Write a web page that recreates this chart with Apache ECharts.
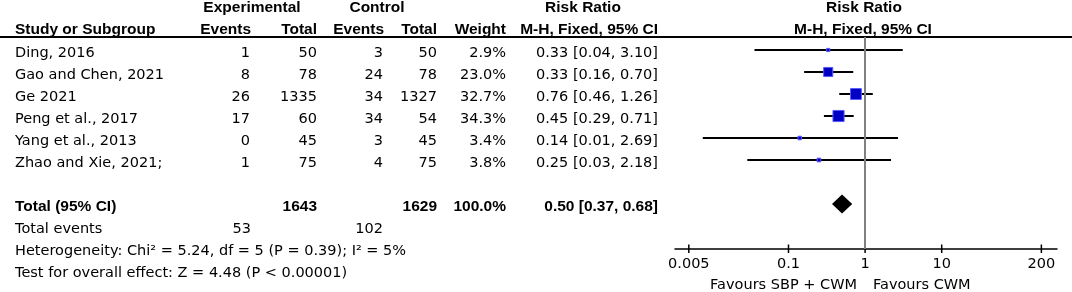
<!DOCTYPE html>
<html>
<head>
<meta charset="utf-8">
<script src="https://cdn.jsdelivr.net/npm/echarts@6/dist/echarts.min.js"></script>
<style>
	html, body { margin: 0; padding: 0; background: #fff; }
	#forest { width: 1072px; height: 292px; }
</style>
</head>
<body>
<div id="forest"></div>
<script>
// study rows
var studies = ['Ding, 2016', 'Gao and Chen, 2021', 'Ge 2021', 'Peng et al., 2017', 'Yang et al., 2013', 'Zhao and Xie, 2021;'];
var expEvents = [1, 8, 26, 17, 0, 1];
var expTotal = [50, 78, 1335, 60, 45, 75];
var ctrlEvents = [3, 24, 34, 34, 3, 4];
var ctrlTotal = [50, 78, 1327, 54, 45, 75];
var weights = [2.9, 23.0, 32.7, 34.3, 3.4, 3.8];
var riskRatio = [0.33, 0.33, 0.76, 0.45, 0.14, 0.25];
var ciLow = [0.036, 0.16, 0.46, 0.29, 0.0076, 0.029];
var ciHigh = [3.10, 0.70, 1.26, 0.71, 2.69, 2.18];

// pooled
var totalExp = 1643, totalCtrl = 1629;
var eventsExp = 53, eventsCtrl = 102;
var totalRR = 0.50, totalLow = 0.37, totalHigh = 0.68;
var totalRow = 7;

var tickValues = [0.005, 0.1, 1, 10, 200];
var tickLabels = ['0.005', '0.1', '1', '10', '200'];

var hetText = 'Heterogeneity: Chi\u00b2 = 5.24, df = 5 (P = 0.39); I\u00b2 = 5%';
var testText = 'Test for overall effect: Z = 4.48 (P < 0.00001)';
var favLeft = 'Favours SBP + CWM';
var favRight = 'Favours CWM';

(function() {
	'use strict';
	var REG = '14.5px "DejaVu Sans"';
	var BOLD = 'bold 15.5px "Liberation Sans"';
	var rowY0 = 53, rowH = 22;
	var graphics = [];

	function txt(x, y, s, align, font) {
		graphics.push({
			type: 'text', x: x, y: y, silent: true,
			style: { text: String(s), font: font || REG, fill: '#000', align: align || 'left', verticalAlign: 'middle' }
		});
	}

	// header
	txt(252, 8, 'Experimental', 'center', BOLD);
	txt(377, 8, 'Control', 'center', BOLD);
	txt(583, 8, 'Risk Ratio', 'center', BOLD);
	txt(864, 8, 'Risk Ratio', 'center', BOLD);
	txt(15, 30, 'Study or Subgroup', 'left', BOLD);
	txt(251, 30, 'Events', 'right', BOLD);
	txt(317, 30, 'Total', 'right', BOLD);
	txt(384, 30, 'Events', 'right', BOLD);
	txt(437, 30, 'Total', 'right', BOLD);
	txt(506, 30, 'Weight', 'right', BOLD);
	txt(658, 30, 'M-H, Fixed, 95% CI', 'right', BOLD);
	txt(863, 30, 'M-H, Fixed, 95% CI', 'center', BOLD);
	graphics.push({ type: 'line', silent: true, shape: { x1: 0, y1: 37, x2: 1072, y2: 37 }, style: { stroke: '#000', lineWidth: 2 } });

	function ciText(r, lo, hi) {
		return r.toFixed(2) + ' [' + lo.toFixed(2) + ', ' + hi.toFixed(2) + ']';
	}

	for (var i = 0; i < studies.length; i++) {
		var y = rowY0 + i * rowH;
		txt(15, y, studies[i]);
		txt(250, y, expEvents[i], 'right');
		txt(317, y, expTotal[i], 'right');
		txt(383, y, ctrlEvents[i], 'right');
		txt(437, y, ctrlTotal[i], 'right');
		txt(506, y, weights[i].toFixed(1) + '%', 'right');
		txt(658, y, ciText(riskRatio[i], ciLow[i], ciHigh[i]), 'right');
	}

	var yt = rowY0 + totalRow * rowH;
	txt(15, yt, 'Total (95% CI)', 'left', BOLD);
	txt(317, yt, totalExp, 'right', BOLD);
	txt(437, yt, totalCtrl, 'right', BOLD);
	txt(506, yt, '100.0%', 'right', BOLD);
	txt(658, yt, ciText(totalRR, totalLow, totalHigh), 'right', BOLD);
	txt(15, yt + rowH, 'Total events');
	txt(251, yt + rowH, eventsExp, 'right');
	txt(383, yt + rowH, eventsCtrl, 'right');
	txt(15, yt + 2 * rowH, hetText);
	txt(15, yt + 3 * rowH, testText);

	txt(857, 285, favLeft, 'right');
	txt(873, 285, favRight, 'left');

	var studyData = [];
	for (var j = 0; j < studies.length; j++) {
		studyData.push([j, ciLow[j], ciHigh[j], riskRatio[j], weights[j]]);
	}

	var yMin = -13 / 22, yMax = 199 / 22;

	var chart = echarts.init(document.getElementById('forest'), null, { renderer: 'canvas' });
	var option = {
		animation: false,
		grid: { left: 675, right: 15, top: 37, bottom: 43 },
		xAxis: {
			type: 'log',
			logBase: 10,
			min: 0.0033,
			max: 320,
			position: 'bottom',
			axisLine: { show: true, onZero: false, lineStyle: { color: '#000', width: 1.5 } },
			axisTick: { show: false },
			splitLine: { show: false },
			axisLabel: {
				customValues: tickValues,
				margin: 8,
				color: '#000',
				fontFamily: 'DejaVu Sans',
				fontSize: 14.5,
				formatter: function(v, idx) {
					var k = tickValues.indexOf(v);
					return k >= 0 ? tickLabels[k] : tickLabels[idx];
				}
			}
		},
		yAxis: { type: 'value', inverse: true, min: yMin, max: yMax, show: false },
		series: [{
			// line of no effect
			type: 'line',
			data: [],
			silent: true,
			markLine: {
				silent: true,
				symbol: 'none',
				label: { show: false },
				lineStyle: { color: '#808080', width: 2, type: 'solid' },
				data: [{ xAxis: 1 }]
			}
		}, {
			// study CIs and squares
			type: 'custom',
			silent: true,
			data: studyData,
			renderItem: function(params, api) {
				var row = api.value(0);
				var a = api.coord([api.value(1), row]);
				var b = api.coord([api.value(2), row]);
				var c = api.coord([api.value(3), row]);
				var s = 1.9 * Math.sqrt(api.value(4));
				return {
					type: 'group',
					children: [{
						type: 'line',
						shape: { x1: a[0], y1: a[1], x2: b[0], y2: b[1] },
						style: { stroke: '#000', lineWidth: 2 }
					}, {
						type: 'rect',
						shape: { x: c[0] - s / 2, y: c[1] - s / 2, width: s, height: s },
						style: { fill: '#0000c4', stroke: '#5a5aff', lineWidth: 1 }
					}]
				};
			}
		}, {
			// pooled diamond
			type: 'custom',
			silent: true,
			data: [[totalRow, totalLow, totalHigh, totalRR]],
			renderItem: function(params, api) {
				var row = api.value(0);
				var l = api.coord([api.value(1), row]);
				var r = api.coord([api.value(2), row]);
				var m = api.coord([api.value(3), row]);
				var h = 9.5;
				return {
					type: 'polygon',
					shape: { points: [[l[0], l[1]], [m[0], m[1] - h], [r[0], r[1]], [m[0], m[1] + h]] },
					style: { fill: '#000' }
				};
			}
		}, {
			// ticks crossing the axis
			type: 'custom',
			silent: true,
			data: tickValues.map(function(v) { return [v]; }),
			renderItem: function(params, api) {
				var p = api.coord([api.value(0), yMax]);
				return {
					type: 'line',
					shape: { x1: p[0], y1: p[1] - 4.5, x2: p[0], y2: p[1] + 4 },
					style: { stroke: '#000', lineWidth: 1.5 }
				};
			}
		}],
		graphic: graphics
	};
	chart.setOption(option);
	window.onresize = chart.resize;
}());
</script>
</body>
</html>
